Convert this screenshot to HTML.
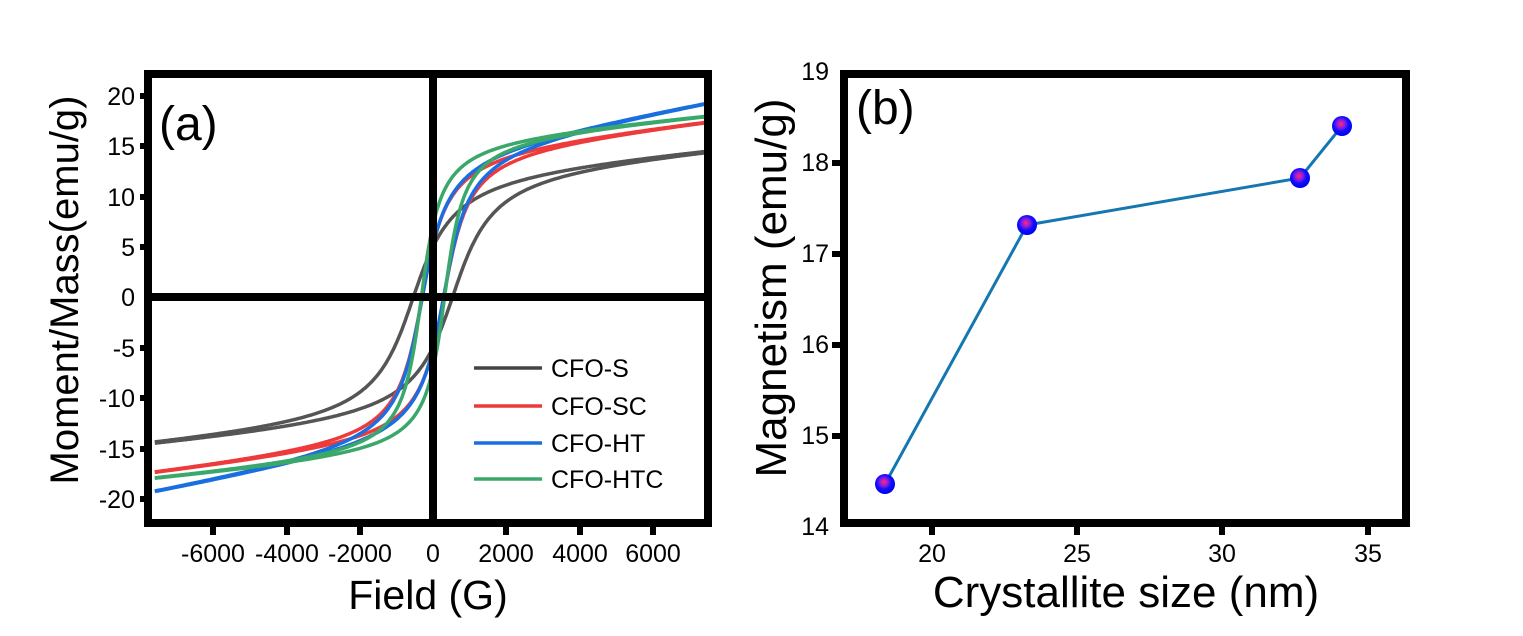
<!DOCTYPE html>
<html><head><style>
body{margin:0;background:#fff;}
svg text{font-family:"Liberation Sans",Arial,sans-serif;fill:#000;}
</style></head><body>
<svg id="s" width="1523" height="631" xmlns="http://www.w3.org/2000/svg">
<defs>
<radialGradient id="g" cx="0.45" cy="0.4" r="0.6">
<stop offset="0" stop-color="#ff2a7a"/><stop offset="0.35" stop-color="#8a1adf"/><stop offset="0.6" stop-color="#1010ff"/><stop offset="1" stop-color="#0000f0"/>
</radialGradient>
</defs>
<g id="a"></g>
<line x1="433" y1="74" x2="433" y2="523" stroke="#000" stroke-width="8"/>
<line x1="148" y1="297" x2="708" y2="297" stroke="#000" stroke-width="8"/>
<rect x="148" y="74" width="560" height="449" fill="none" stroke="#000" stroke-width="8"/>
<g font-size="25" text-anchor="end">
<text x="135" y="105">20</text><text x="135" y="155">15</text><text x="135" y="206">10</text>
<text x="135" y="256">5</text><text x="135" y="306">0</text><text x="135" y="357">-5</text>
<text x="135" y="407">-10</text><text x="135" y="458">-15</text><text x="135" y="508">-20</text>
</g>
<g stroke="#000" stroke-width="6">
<line x1="140" y1="96" x2="148" y2="96"/><line x1="140" y1="146" x2="148" y2="146"/><line x1="140" y1="197" x2="148" y2="197"/><line x1="140" y1="247" x2="148" y2="247"/><line x1="140" y1="348" x2="148" y2="348"/><line x1="140" y1="398" x2="148" y2="398"/><line x1="140" y1="449" x2="148" y2="449"/><line x1="140" y1="499" x2="148" y2="499"/>
<line x1="213" y1="527" x2="213" y2="535"/><line x1="287" y1="527" x2="287" y2="535"/><line x1="360" y1="527" x2="360" y2="535"/><line x1="506" y1="527" x2="506" y2="535"/><line x1="580" y1="527" x2="580" y2="535"/><line x1="653" y1="527" x2="653" y2="535"/>
</g>
<g font-size="25" text-anchor="middle">
<text x="213" y="562">-6000</text><text x="287" y="562">-4000</text><text x="360" y="562">-2000</text><text x="433" y="562">0</text><text x="506" y="562">2000</text><text x="580" y="562">4000</text><text x="653" y="562">6000</text>
</g>
<text x="428" y="609" font-size="41" text-anchor="middle">Field (G)</text>
<text transform="translate(78,290) rotate(-90)" font-size="40" text-anchor="middle">Moment/Mass(emu/g)</text>
<text x="159" y="140" font-size="48">(a)</text>
<g stroke-width="3.5">
<line x1="474" y1="368" x2="542" y2="368" stroke="#444"/>
<line x1="474" y1="406" x2="542" y2="406" stroke="#ee3a3a"/>
<line x1="474" y1="443" x2="542" y2="443" stroke="#1a6fe0"/>
<line x1="474" y1="479" x2="542" y2="479" stroke="#3aa86a"/>
</g>
<g font-size="25">
<text x="551" y="377">CFO-S</text><text x="551" y="415">CFO-SC</text><text x="551" y="452">CFO-HT</text><text x="551" y="488">CFO-HTC</text>
</g>
<rect x="844" y="74" width="562" height="449" fill="none" stroke="#000" stroke-width="8"/>
<g stroke="#000" stroke-width="6">
<line x1="832" y1="163" x2="840" y2="163"/><line x1="832" y1="254" x2="840" y2="254"/><line x1="832" y1="345" x2="840" y2="345"/><line x1="832" y1="436" x2="840" y2="436"/>
<line x1="932" y1="527" x2="932" y2="535"/><line x1="1077" y1="527" x2="1077" y2="535"/><line x1="1222" y1="527" x2="1222" y2="535"/><line x1="1368" y1="527" x2="1368" y2="535"/>
</g>
<g font-size="25" text-anchor="end">
<text x="829" y="80">19</text><text x="829" y="171">18</text><text x="829" y="262">17</text><text x="829" y="353">16</text><text x="829" y="444">15</text><text x="829" y="535">14</text>
</g>
<g font-size="25" text-anchor="middle">
<text x="932" y="562">20</text><text x="1077" y="562">25</text><text x="1222" y="562">30</text><text x="1368" y="562">35</text>
</g>
<text x="1126" y="607" font-size="44" text-anchor="middle">Crystallite size (nm)</text>
<text transform="translate(786,288) rotate(-90)" font-size="44" text-anchor="middle">Magnetism (emu/g)</text>
<text x="856" y="124" font-size="48">(b)</text>
<polyline points="885,484 1027,225 1300,178 1342,126" fill="none" stroke="#1577b0" stroke-width="3"/>
<g fill="url(#g)">
<circle cx="885" cy="484" r="10"/><circle cx="1027" cy="225" r="10"/><circle cx="1300" cy="178" r="10"/><circle cx="1342" cy="126" r="10"/>
</g>
</svg>
<script>
var P=[["#555",13,0.0003,550,800],["#ee3a3a",15,0.00039,300,500],["#1a6fe0",15,0.00064,300,500],["#3aa86a",16,0.00032,320,380]];
var g=document.getElementById('a'),ns="http://www.w3.org/2000/svg";
P.forEach(function(p){
 [1,-1].forEach(function(s){
  var d="";
  for(var H=-7600;H<=7600;H+=40){
   var M=p[1]*(2/Math.PI)*Math.atan((H+s*p[3])/p[4])+p[2]*H;
   var x=433+H*0.0366,y=297-M*10.1;
   d+=(d?"L":"M")+x.toFixed(1)+","+y.toFixed(1);
  }
  var e=document.createElementNS(ns,"path");
  e.setAttribute("d",d);e.setAttribute("fill","none");e.setAttribute("stroke",p[0]);e.setAttribute("stroke-width","3.5");
  g.appendChild(e);
 });
});
</script>
</body></html>
